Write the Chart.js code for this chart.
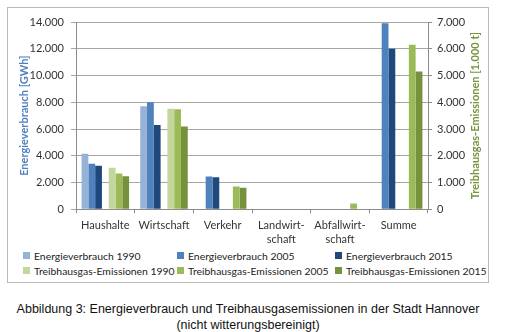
<!DOCTYPE html>
<html>
<head>
<meta charset="utf-8">
<script src="https://cdn.jsdelivr.net/npm/chart.js@4"></script>
<style>
  body { margin: 0; background: #fff; width: 506px; height: 332px; position: relative; overflow: hidden; }
  #box { position: absolute; left: 7px; top: 7px; width: 480px; height: 274px; border: 1px solid #b8b8b8; }
  #wrap { position: absolute; left: 0; top: 0; width: 480px; height: 238px; }
  #legend { position: absolute; left: 15px; top: 241px; width: 470px;
            display: grid; grid-template-columns: 154px 158px 158px; row-gap: 2px;
            font: 10.4px Lato, sans-serif; color: #222; }
  #legend span.item { display: flex; align-items: center; white-space: nowrap; height: 13px; }
  #legend i { display: inline-block; flex-shrink: 0; width: 7px; height: 7px; margin-right: 4px; }
  #caption { position: absolute; left: 0; top: 301px; width: 496px; text-align: center;
             font: 12.5px "Liberation Sans", Arial, sans-serif; line-height: 16px; color: #111; }
</style>
</head>
<body>
<div id="box">
  <div id="wrap"><canvas id="chart"></canvas></div>
  <div id="legend"></div>
</div>
<div id="caption">Abbildung 3: Energieverbrauch und Treibhausgasemissionen in der Stadt Hannover<br>(nicht witterungsbereinigt)</div>
<script>
// values (GWh / 1.000 t)
const categories = ['Haushalte', 'Wirtschaft', 'Verkehr', ['Landwirt-', 'schaft'], ['Abfallwirt-', 'schaft'], 'Summe'];
const energie1990 = [4150, 7700, null, null, null, null];
const energie2005 = [3400, 8000, 2450, null, null, 13900];
const energie2015 = [3250, 6300, 2400, null, null, 12000];
const thg1990 = [1550, 3760, null, null, null, null];
const thg2005 = [1335, 3740, 850, null, 220, 6150];
const thg2015 = [1235, 3090, 810, null, null, 5150];

const fmt = v => String(v).replace(/\B(?=(\d{3})+(?!\d))/g, '.');
const tickFont = { family: 'Lato', size: 11 };
const rightTitle = 'Treibhausgas-Emissionen [1.000 t]';

const datasets = [
    { label: 'Energieverbrauch 1990', data: energie1990, backgroundColor: '#95b3d7', yAxisID: 'y' },
    { label: 'Energieverbrauch 2005', data: energie2005, backgroundColor: '#4f81bd', yAxisID: 'y' },
    { label: 'Energieverbrauch 2015', data: energie2015, backgroundColor: '#1f497d', yAxisID: 'y' },
    { label: '', data: categories.map(() => null), backgroundColor: 'transparent', yAxisID: 'y' }, // spacer
    { label: 'Treibhausgas-Emissionen 1990', data: thg1990, backgroundColor: '#c3d69b', yAxisID: 'y2' },
    { label: 'Treibhausgas-Emissionen 2005', data: thg2005, backgroundColor: '#9bbb59', yAxisID: 'y2' },
    { label: 'Treibhausgas-Emissionen 2015', data: thg2015, backgroundColor: '#76923c', yAxisID: 'y2' }
];

// right axis title reads bottom to top, as in Excel
const rightTitlePlugin = {
    id: 'rightTitle',
    afterDraw(c) {
        const s = c.scales.y2, ctx = c.ctx;
        ctx.save();
        ctx.translate(s.right - 13, (c.chartArea.top + c.chartArea.bottom) / 2);
        ctx.rotate(-Math.PI / 2);
        ctx.font = 'bold 11px Lato';
        ctx.fillStyle = '#77933c';
        ctx.textAlign = 'center';
        ctx.textBaseline = 'middle';
        ctx.fillText(rightTitle, 0, 0);
        ctx.restore();
    }
};

const chart = new Chart(document.getElementById('chart'), {
    type: 'bar',
    data: { labels: categories, datasets },
    plugins: [rightTitlePlugin],
    options: {
        responsive: true,
        maintainAspectRatio: false,
        animation: false,
        datasets: { bar: { barPercentage: 1, categoryPercentage: 0.81 } },
        layout: { padding: { top: 14, left: 0, right: 0, bottom: 0 } },
        plugins: { legend: { display: false }, tooltip: { enabled: false } },
        scales: {
            x: {
                grid: { offset: true, drawOnChartArea: false, tickLength: 4, color: '#8c8c8c' },
                border: { color: '#8c8c8c' },
                ticks: { color: '#333', font: tickFont, padding: 6, maxRotation: 0, autoSkip: false },
                afterFit: s => { s.height = 36.7; }
            },
            y: {
                position: 'left', min: 0, max: 14000,
                ticks: { stepSize: 2000, color: '#333', font: tickFont, padding: 7, callback: fmt },
                grid: { color: '#a6a6a6', tickLength: 5 },
                border: { color: '#8c8c8c' },
                title: { display: true, text: 'Energieverbrauch [GWh]', color: '#4f81bd',
                         font: { family: 'Lato', size: 11, weight: 'bold' }, padding: { top: 10 } },
                afterFit: s => { s.width = 68; }
            },
            y2: {
                position: 'right', min: 0, max: 7000,
                ticks: { stepSize: 1000, color: '#333', font: tickFont, padding: 5, callback: fmt },
                grid: { drawOnChartArea: false, color: '#8c8c8c', tickLength: 4 },
                border: { color: '#8c8c8c' },
                afterFit: s => { s.width = 60; }
            }
        }
    }
});

// legend in three columns, like the original
const legend = document.getElementById('legend');
chart.data.datasets.filter(d => d.label).forEach(d => {
    const item = document.createElement('span');
    item.className = 'item';
    item.innerHTML = '<i style="background:' + d.backgroundColor + '"></i>' + d.label;
    legend.appendChild(item);
});
</script>
</body>
</html>
